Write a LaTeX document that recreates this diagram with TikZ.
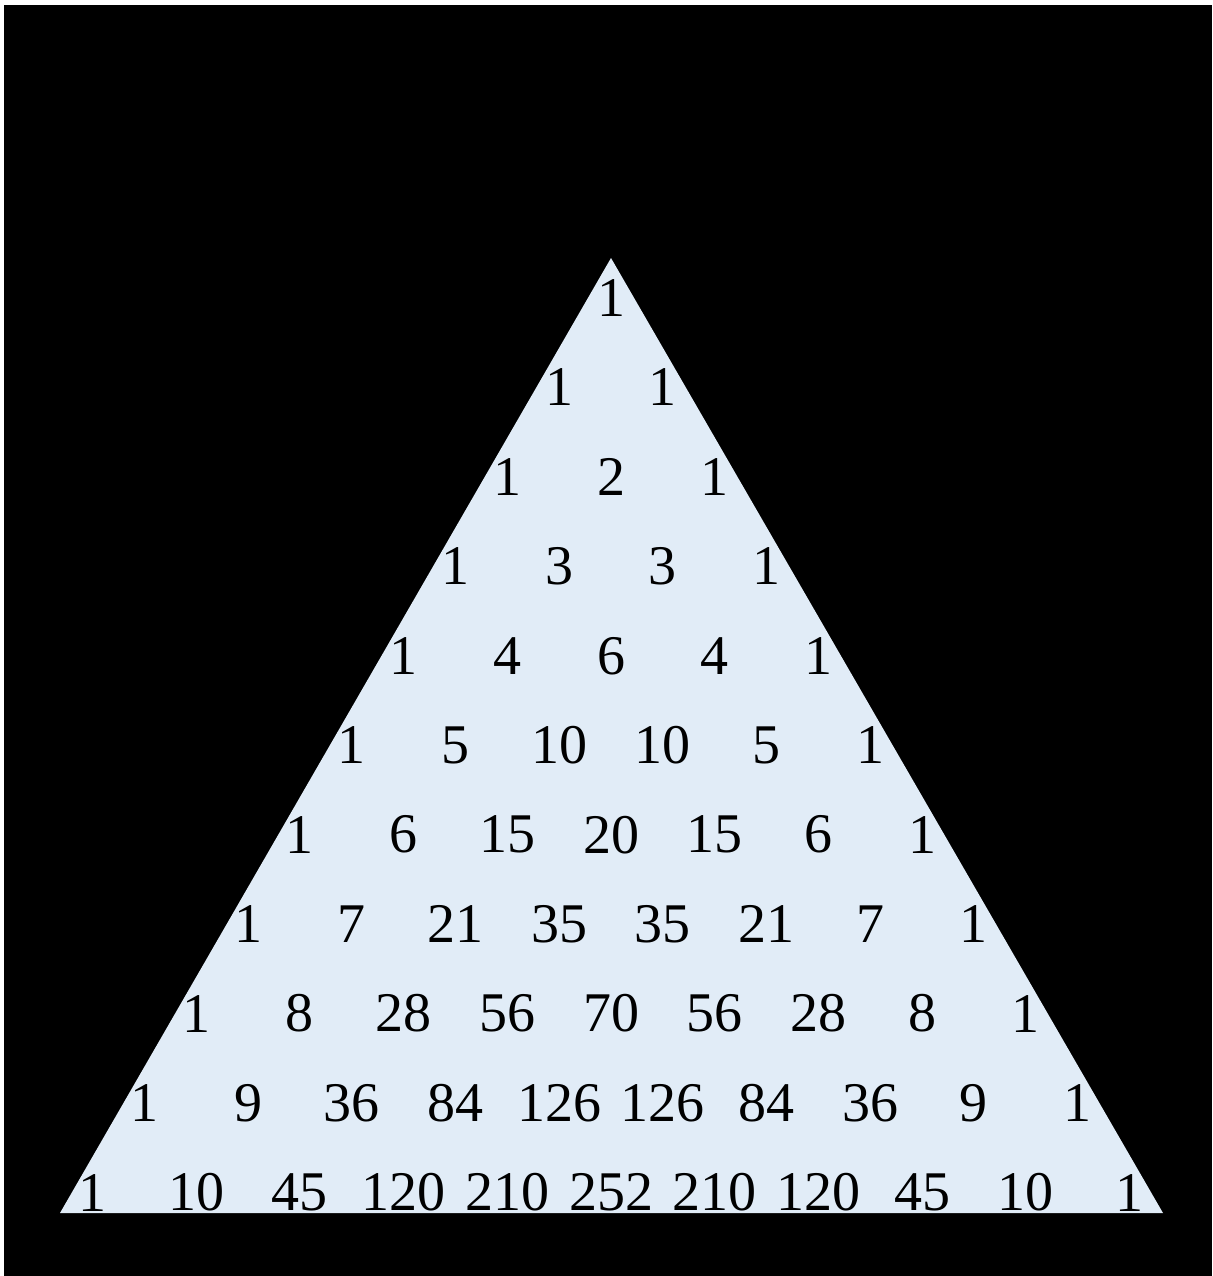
\documentclass[tikz,border=0pt]{standalone}
\usepackage{fontspec}
\setmainfont{Liberation Serif}
\definecolor{triblue}{RGB}{225,236,247}
\begin{document}
\begin{tikzpicture}[x=1pt,y=-1pt,
  num/.style={inner sep=0pt,font=\fontsize{56}{60}\selectfont,text=black}]
\useasboundingbox (0,0) rectangle (1212,1276);
\fill[white] (0,0) rectangle (1212,1276);
\fill[black] (4,5) rectangle (1212,1276);
\fill[triblue] (611,258) -- (1163,1213) -- (60,1213) -- cycle;
\foreach \r/\vals in {0/{1},1/{1,1},2/{1,2,1},3/{1,3,3,1},4/{1,4,6,4,1},
  5/{1,5,10,10,5,1},6/{1,6,15,20,15,6,1},7/{1,7,21,35,35,21,7,1},
  8/{1,8,28,56,70,56,28,8,1},9/{1,9,36,84,126,126,84,36,9,1},
  10/{1,10,45,120,210,252,210,120,45,10,1}}{
  \foreach \v [count=\k from 0] in \vals {
    \node[num] (n-\r-\k) at ({611+(\k-\r/2)*103.7},{298+89.45*\r}) {\v};
  }
}
\end{tikzpicture}
\end{document}
